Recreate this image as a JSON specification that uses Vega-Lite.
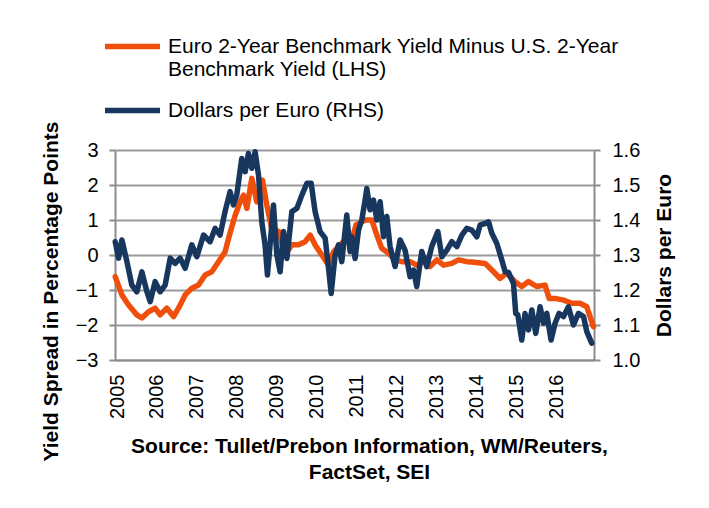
{
  "$schema": "https://vega.github.io/schema/vega-lite/v6.json",
  "width": 479,
  "height": 210,
  "autosize": "none",
  "padding": {"left": 115, "top": 150, "right": 115, "bottom": 148},
  "background": "white",
  "config": {
    "view": {"stroke": null},
    "font": "Liberation Sans",
    "axis": {"labelFont": "Liberation Sans", "titleFont": "Liberation Sans", "labelColor": "black", "titleColor": "black"}
  },
  "datasets": {
    "spread": [
      {"date": "2005-01-03", "spread": -0.62},
      {"date": "2005-03-05", "spread": -1.14},
      {"date": "2005-05-05", "spread": -1.43},
      {"date": "2005-07-20", "spread": -1.71},
      {"date": "2005-09-04", "spread": -1.80},
      {"date": "2005-11-04", "spread": -1.62},
      {"date": "2006-01-03", "spread": -1.52},
      {"date": "2006-02-18", "spread": -1.71},
      {"date": "2006-04-20", "spread": -1.52},
      {"date": "2006-06-21", "spread": -1.76},
      {"date": "2006-08-05", "spread": -1.52},
      {"date": "2006-10-05", "spread": -1.14},
      {"date": "2006-12-05", "spread": -0.95},
      {"date": "2007-02-04", "spread": -0.86},
      {"date": "2007-04-06", "spread": -0.57},
      {"date": "2007-06-06", "spread": -0.48},
      {"date": "2007-08-06", "spread": -0.19},
      {"date": "2007-10-05", "spread": 0.09},
      {"date": "2007-11-17", "spread": 0.60},
      {"date": "2008-01-02", "spread": 1.10},
      {"date": "2008-02-17", "spread": 1.50},
      {"date": "2008-03-22", "spread": 1.71},
      {"date": "2008-04-21", "spread": 1.33},
      {"date": "2008-06-06", "spread": 2.19},
      {"date": "2008-07-21", "spread": 1.52},
      {"date": "2008-09-11", "spread": 2.14},
      {"date": "2008-10-21", "spread": 1.43},
      {"date": "2008-12-05", "spread": 0.76},
      {"date": "2009-02-06", "spread": 0.67},
      {"date": "2009-04-07", "spread": 0.00},
      {"date": "2009-06-07", "spread": 0.29},
      {"date": "2009-08-08", "spread": 0.29},
      {"date": "2009-10-07", "spread": 0.38},
      {"date": "2009-11-22", "spread": 0.57},
      {"date": "2010-01-06", "spread": 0.29},
      {"date": "2010-03-09", "spread": 0.00},
      {"date": "2010-05-09", "spread": -0.29},
      {"date": "2010-06-24", "spread": 0.09},
      {"date": "2010-08-23", "spread": 0.29},
      {"date": "2010-10-23", "spread": 0.48},
      {"date": "2010-12-08", "spread": 0.43},
      {"date": "2011-01-15", "spread": 0.86},
      {"date": "2011-04-09", "spread": 1.00},
      {"date": "2011-06-09", "spread": 1.00},
      {"date": "2011-07-25", "spread": 0.57},
      {"date": "2011-09-08", "spread": 0.19},
      {"date": "2011-11-09", "spread": 0.05},
      {"date": "2012-01-08", "spread": -0.14},
      {"date": "2012-03-09", "spread": -0.19},
      {"date": "2012-05-24", "spread": -0.19},
      {"date": "2012-07-24", "spread": -0.29},
      {"date": "2012-09-23", "spread": -0.19},
      {"date": "2012-11-23", "spread": -0.33},
      {"date": "2013-01-24", "spread": -0.14},
      {"date": "2013-03-26", "spread": -0.29},
      {"date": "2013-06-10", "spread": -0.24},
      {"date": "2013-08-11", "spread": -0.14},
      {"date": "2013-10-25", "spread": -0.19},
      {"date": "2013-12-10", "spread": -0.20},
      {"date": "2014-02-09", "spread": -0.22},
      {"date": "2014-04-11", "spread": -0.24},
      {"date": "2014-06-11", "spread": -0.43},
      {"date": "2014-08-26", "spread": -0.67},
      {"date": "2014-10-26", "spread": -0.52},
      {"date": "2015-01-10", "spread": -0.76},
      {"date": "2015-03-12", "spread": -0.90},
      {"date": "2015-05-13", "spread": -0.76},
      {"date": "2015-07-27", "spread": -0.90},
      {"date": "2015-10-11", "spread": -0.86},
      {"date": "2015-11-17", "spread": -1.24},
      {"date": "2016-01-11", "spread": -1.24},
      {"date": "2016-03-28", "spread": -1.29},
      {"date": "2016-06-12", "spread": -1.38},
      {"date": "2016-08-26", "spread": -1.38},
      {"date": "2016-10-27", "spread": -1.48},
      {"date": "2016-11-26", "spread": -1.76},
      {"date": "2016-12-27", "spread": -2.05}
    ],
    "fx": [
      {"date": "2005-01-03", "usd": 1.338},
      {"date": "2005-02-03", "usd": 1.291},
      {"date": "2005-03-05", "usd": 1.343},
      {"date": "2005-04-20", "usd": 1.281},
      {"date": "2005-06-04", "usd": 1.214},
      {"date": "2005-07-20", "usd": 1.195},
      {"date": "2005-09-04", "usd": 1.252},
      {"date": "2005-10-20", "usd": 1.195},
      {"date": "2005-11-19", "usd": 1.167},
      {"date": "2006-01-03", "usd": 1.224},
      {"date": "2006-02-18", "usd": 1.195},
      {"date": "2006-04-05", "usd": 1.214},
      {"date": "2006-05-21", "usd": 1.291},
      {"date": "2006-07-05", "usd": 1.276},
      {"date": "2006-08-20", "usd": 1.291},
      {"date": "2006-10-05", "usd": 1.262},
      {"date": "2006-12-05", "usd": 1.329},
      {"date": "2007-01-20", "usd": 1.295},
      {"date": "2007-03-22", "usd": 1.357},
      {"date": "2007-05-21", "usd": 1.338},
      {"date": "2007-07-06", "usd": 1.376},
      {"date": "2007-08-21", "usd": 1.357},
      {"date": "2007-10-05", "usd": 1.424},
      {"date": "2007-11-20", "usd": 1.481},
      {"date": "2007-12-21", "usd": 1.443},
      {"date": "2008-01-20", "usd": 1.471},
      {"date": "2008-03-06", "usd": 1.576},
      {"date": "2008-04-06", "usd": 1.538},
      {"date": "2008-05-06", "usd": 1.590},
      {"date": "2008-06-06", "usd": 1.548},
      {"date": "2008-07-06", "usd": 1.595},
      {"date": "2008-08-06", "usd": 1.529},
      {"date": "2008-09-05", "usd": 1.395},
      {"date": "2008-10-05", "usd": 1.329},
      {"date": "2008-10-27", "usd": 1.243},
      {"date": "2008-11-20", "usd": 1.329},
      {"date": "2008-12-21", "usd": 1.443},
      {"date": "2009-01-21", "usd": 1.300},
      {"date": "2009-02-20", "usd": 1.252},
      {"date": "2009-03-23", "usd": 1.367},
      {"date": "2009-04-23", "usd": 1.290},
      {"date": "2009-06-07", "usd": 1.424},
      {"date": "2009-07-23", "usd": 1.433},
      {"date": "2009-09-07", "usd": 1.471},
      {"date": "2009-10-23", "usd": 1.505},
      {"date": "2009-12-01", "usd": 1.505},
      {"date": "2010-01-06", "usd": 1.424},
      {"date": "2010-02-21", "usd": 1.367},
      {"date": "2010-04-08", "usd": 1.348},
      {"date": "2010-05-09", "usd": 1.262},
      {"date": "2010-06-02", "usd": 1.190},
      {"date": "2010-07-08", "usd": 1.300},
      {"date": "2010-08-08", "usd": 1.329},
      {"date": "2010-09-07", "usd": 1.281},
      {"date": "2010-10-23", "usd": 1.414},
      {"date": "2010-11-22", "usd": 1.310},
      {"date": "2010-12-08", "usd": 1.352},
      {"date": "2011-01-07", "usd": 1.290},
      {"date": "2011-02-07", "usd": 1.371},
      {"date": "2011-03-09", "usd": 1.400},
      {"date": "2011-04-09", "usd": 1.457},
      {"date": "2011-04-24", "usd": 1.490},
      {"date": "2011-05-24", "usd": 1.429},
      {"date": "2011-06-24", "usd": 1.457},
      {"date": "2011-07-25", "usd": 1.400},
      {"date": "2011-08-24", "usd": 1.452},
      {"date": "2011-09-24", "usd": 1.352},
      {"date": "2011-10-24", "usd": 1.410},
      {"date": "2011-11-23", "usd": 1.324},
      {"date": "2012-01-08", "usd": 1.267},
      {"date": "2012-02-23", "usd": 1.343},
      {"date": "2012-04-08", "usd": 1.314},
      {"date": "2012-05-24", "usd": 1.238},
      {"date": "2012-06-24", "usd": 1.257},
      {"date": "2012-07-24", "usd": 1.210},
      {"date": "2012-09-08", "usd": 1.310},
      {"date": "2012-10-24", "usd": 1.267},
      {"date": "2012-12-08", "usd": 1.324},
      {"date": "2013-02-02", "usd": 1.367},
      {"date": "2013-03-11", "usd": 1.295},
      {"date": "2013-04-26", "usd": 1.314},
      {"date": "2013-06-10", "usd": 1.338},
      {"date": "2013-07-26", "usd": 1.324},
      {"date": "2013-09-10", "usd": 1.357},
      {"date": "2013-10-25", "usd": 1.376},
      {"date": "2013-12-10", "usd": 1.371},
      {"date": "2014-01-25", "usd": 1.352},
      {"date": "2014-02-24", "usd": 1.386},
      {"date": "2014-04-11", "usd": 1.390},
      {"date": "2014-05-12", "usd": 1.395},
      {"date": "2014-06-11", "usd": 1.362},
      {"date": "2014-07-27", "usd": 1.333},
      {"date": "2014-09-10", "usd": 1.286},
      {"date": "2014-10-11", "usd": 1.252},
      {"date": "2014-11-11", "usd": 1.250},
      {"date": "2014-12-26", "usd": 1.219},
      {"date": "2015-01-16", "usd": 1.133},
      {"date": "2015-02-04", "usd": 1.129},
      {"date": "2015-03-12", "usd": 1.057},
      {"date": "2015-04-11", "usd": 1.133},
      {"date": "2015-05-13", "usd": 1.086},
      {"date": "2015-06-12", "usd": 1.143},
      {"date": "2015-07-18", "usd": 1.076},
      {"date": "2015-08-27", "usd": 1.152},
      {"date": "2015-09-27", "usd": 1.105},
      {"date": "2015-10-27", "usd": 1.133},
      {"date": "2015-12-05", "usd": 1.057},
      {"date": "2016-01-11", "usd": 1.105},
      {"date": "2016-02-16", "usd": 1.133},
      {"date": "2016-03-28", "usd": 1.124},
      {"date": "2016-05-12", "usd": 1.152},
      {"date": "2016-06-27", "usd": 1.100},
      {"date": "2016-08-12", "usd": 1.133},
      {"date": "2016-09-27", "usd": 1.124},
      {"date": "2016-10-27", "usd": 1.081},
      {"date": "2016-12-11", "usd": 1.048}
    ]
  },
  "layer": [
    {
      "data": {"name": "spread"},
      "mark": {"type": "line", "strokeWidth": 5.5, "strokeJoin": "round", "strokeCap": "round"},
      "encoding": {
        "x": {
          "field": "date", "type": "temporal",
          "scale": {"domain": [{"year": 2005, "month": 1, "date": 1}, {"year": 2017, "month": 1, "date": 1}]},
          "axis": {
            "values": [{"year": 2005}, {"year": 2006}, {"year": 2007}, {"year": 2008}, {"year": 2009}, {"year": 2010}, {"year": 2011}, {"year": 2012}, {"year": 2013}, {"year": 2014}, {"year": 2015}, {"year": 2016}],
            "format": "%Y",
            "labelAngle": 270,
            "labelFontSize": 20,
            "labelOffset": 2,
            "labelPadding": 14,
            "ticks": false,
            "tickSize": 0,
            "grid": false,
            "domainColor": "#8c8c8c",
            "domainWidth": 2,
            "title": ["Source: Tullet/Prebon Information, WM/Reuters,", "FactSet, SEI"],
            "titleFontSize": 21,
            "titleFontWeight": "bold",
            "titleLineHeight": 26,
            "titleAlign": "center",
            "titleAnchor": "start",
            "titleBaseline": "top",
            "titleX": 254,
            "titleY": 75
          }
        },
        "y": {
          "field": "spread", "type": "quantitative",
          "scale": {"domain": [-3, 3], "nice": false},
          "axis": {
            "orient": "left",
            "values": [-3, -2, -1, 0, 1, 2, 3],
            "labelFontSize": 20,
            "labelPadding": 11,
            "tickSize": 6,
            "tickColor": "#8c8c8c",
            "tickWidth": 2,
            "domainColor": "#8c8c8c",
            "domainWidth": 2,
            "grid": true,
            "gridColor": "#9a9a9a",
            "gridWidth": 2,
            "title": "Yield Spread in Percentage Points",
            "titleFontSize": 21,
            "titleFontWeight": "bold",
            "titleAngle": 270,
            "titleAlign": "center",
            "titleBaseline": "alphabetic",
            "titleX": -58,
            "titleY": 141
          }
        },
        "color": {
          "datum": "Euro 2-Year Benchmark Yield Minus U.S. 2-Year Benchmark Yield (LHS)",
          "type": "nominal",
          "scale": {
            "domain": ["Euro 2-Year Benchmark Yield Minus U.S. 2-Year Benchmark Yield (LHS)", "Dollars per Euro (RHS)"],
            "range": ["#F04E0B", "#17375E"]
          },
          "legend": {
            "orient": "none",
            "legendX": -13,
            "legendY": -134,
            "title": null,
            "padding": 0,
            "symbolType": "stroke",
            "symbolSize": 3025,
            "symbolStrokeWidth": 5.5,
            "labelFontSize": 21,
            "labelFont": "Liberation Sans",
            "labelColor": "black",
            "labelLimit": 600,
            "labelOffset": 5,
            "labelLineHeight": 23,
            "rowPadding": -5,
            "labelExpr": "datum.label == 'Dollars per Euro (RHS)' ? datum.label : ['Euro 2-Year Benchmark Yield Minus U.S. 2-Year', 'Benchmark Yield (LHS)']"
          }
        }
      }
    },
    {
      "data": {"name": "fx"},
      "mark": {"type": "line", "strokeWidth": 5.5, "strokeJoin": "round", "strokeCap": "round"},
      "encoding": {
        "x": {"field": "date", "type": "temporal"},
        "y": {
          "field": "usd", "type": "quantitative",
          "scale": {"domain": [1.0, 1.6], "nice": false, "zero": false},
          "axis": {
            "orient": "right",
            "values": [1.0, 1.1, 1.2, 1.3, 1.4, 1.5, 1.6],
            "format": ".1f",
            "labelFontSize": 20,
            "labelPadding": 12,
            "tickSize": 6,
            "tickColor": "#8c8c8c",
            "tickWidth": 2,
            "domainColor": "#8c8c8c",
            "domainWidth": 2,
            "grid": false,
            "title": "Dollars per Euro",
            "titleFontSize": 21,
            "titleFontWeight": "bold",
            "titleAngle": 270,
            "titleAlign": "center",
            "titleBaseline": "alphabetic",
            "titleX": 76,
            "titleY": 105
          }
        },
        "color": {"datum": "Dollars per Euro (RHS)", "type": "nominal"}
      }
    }
  ],
  "resolve": {"scale": {"y": "independent"}}
}
